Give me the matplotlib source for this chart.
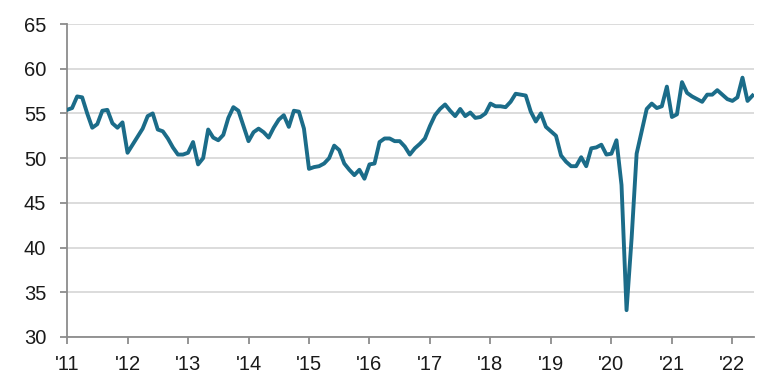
import matplotlib
matplotlib.use("Agg")
import matplotlib.pyplot as plt
import numpy as np

plt.rcParams['font.family'] = ['Liberation Sans', 'DejaVu Sans']

# monthly index values, Jan 2011 .. May 2022
y2011 = [55.4, 55.6, 56.9, 56.8, 55.0, 53.4, 53.8, 55.3, 55.4, 53.9, 53.4, 54.0]
y2012 = [50.6, 51.5, 52.4, 53.3, 54.7, 55.0, 53.2, 53.0, 52.2, 51.2, 50.4, 50.4]
y2013 = [50.6, 51.8, 49.3, 50.0, 53.2, 52.3, 52.0, 52.6, 54.5, 55.7, 55.3, 53.6]
y2014 = [51.9, 52.9, 53.3, 52.9, 52.3, 53.4, 54.3, 54.8, 53.5, 55.3, 55.2, 53.3]
y2015 = [48.8, 49.0, 49.1, 49.4, 50.0, 51.4, 50.9, 49.4, 48.7, 48.1, 48.7, 47.7]
y2016 = [49.3, 49.4, 51.8, 52.2, 52.2, 51.9, 51.9, 51.3, 50.4, 51.1, 51.6, 52.2]
y2017 = [53.6, 54.8, 55.5, 56.0, 55.3, 54.7, 55.5, 54.7, 55.1, 54.5, 54.6, 55.0]
y2018 = [56.1, 55.8, 55.8, 55.7, 56.3, 57.2, 57.1, 57.0, 55.2, 54.1, 55.0, 53.5]
y2019 = [53.0, 52.5, 50.3, 49.6, 49.1, 49.1, 50.1, 49.1, 51.1, 51.2, 51.5, 50.4]
y2020 = [50.5, 52.0, 47.0, 33.0, 41.0, 50.5, 53.0, 55.5, 56.1, 55.6, 55.8, 58.0]
y2021 = [54.6, 54.9, 58.5, 57.3, 56.9, 56.6, 56.3, 57.1, 57.1, 57.6, 57.1, 56.6]
y2022 = [56.4, 56.8, 59.0, 56.4, 57.0]

values = (y2011 + y2012 + y2013 + y2014 + y2015 + y2016 + y2017 + y2018
          + y2019 + y2020 + y2021 + y2022)
years = ["'11", "'12", "'13", "'14", "'15", "'16", "'17", "'18", "'19", "'20", "'21", "'22"]

months = np.arange(len(values))

fig = plt.figure(figsize=(7.75, 3.84), dpi=100)
ax = fig.add_axes([0.0865, 0.1224, 0.8865, 0.8151])

ax.plot(months, values, color='#1b6c89', lw=2.8, solid_joinstyle='round', zorder=3)

ax.set_xlim(0, 136.3)
ax.set_ylim(30, 65)
ax.set_yticks(np.arange(30, 66, 5))
ax.set_xticks(np.arange(len(years)) * 12)
ax.set_xticklabels(years)

ax.grid(axis='y', color='#d9d9d9', lw=1.3, zorder=0)
ax.set_axisbelow(True)
for s in ['top', 'right']:
    ax.spines[s].set_visible(False)
for s in ['left', 'bottom']:
    ax.spines[s].set_color('#8c8c8c')
    ax.spines[s].set_linewidth(1.3)

ax.tick_params(axis='y', length=5, width=1.3, color='#8c8c8c', pad=10,
               labelsize=14.5, labelcolor='#1a1a1a')
ax.tick_params(axis='x', length=5, width=1.3, color='#8c8c8c', pad=8,
               labelsize=14.5, labelcolor='#1a1a1a')

fig.savefig('out.png', dpi=100)
